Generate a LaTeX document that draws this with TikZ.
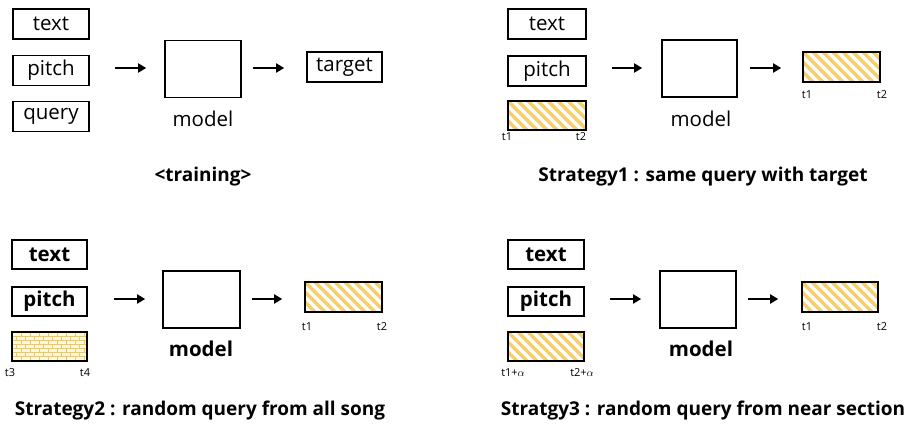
\documentclass[tikz,border=0pt]{standalone}
\usepackage{fontspec}
\setmainfont{Open Sans}
\usetikzlibrary{arrows.meta}
\definecolor{hy}{RGB}{248,206,104}
\definecolor{brk}{RGB}{246,198,80}
\definecolor{brkfill}{RGB}{255,247,222}
\tikzset{
  inbox/.style={draw, line width=1.6pt, minimum width=76pt, minimum height=30pt, inner sep=0pt, font=\fontsize{20.5}{20.5}\selectfont},
  inboxb/.style={inbox, font=\fontsize{20.5}{20.5}\selectfont\bfseries},
  modelbox/.style={draw, line width=1.6pt, minimum width=76pt, minimum height=57pt, inner sep=0pt},
  mlabel/.style={font=\fontsize{20.5}{20.5}\selectfont, inner sep=0pt},
  mlabelb/.style={mlabel, font=\fontsize{20.5}{20.5}\selectfont\bfseries},
  caption/.style={font=\fontsize{19}{19}\selectfont\bfseries, inner sep=0pt},
  tlab/.style={font=\fontsize{11}{11}\selectfont, inner sep=0pt},
  arr/.style={line width=1.8pt, -{Triangle[length=8pt,width=9pt]}},
  hatchbox/.style={draw, line width=1.6pt, inner sep=0pt, minimum width=77pt, minimum height=30pt,
    path picture={\foreach \i in {-6,...,9}{\draw[hy, line width=3.4pt] ([xshift=\i*10pt]path picture bounding box.north west) -- ++(40pt,-40pt);}}},
  brickbox/.style={draw, line width=1.6pt, inner sep=0pt, minimum width=75pt, minimum height=29pt, fill=brkfill,
    path picture={\foreach \r in {0,...,8}{
        \draw[brk, line width=0.9pt] ([yshift=-\r*4pt]path picture bounding box.north west) -- ++(100pt,0pt);
        \pgfmathsetmacro\off{mod(\r,2)*4.5}
        \foreach \k in {0,...,9}{\draw[brk, line width=0.9pt] ([xshift=\off pt+\k*9pt, yshift=-\r*4pt]path picture bounding box.north west) -- ++(0pt,-4pt);}
      }}}
}
\begin{document}
\begin{tikzpicture}[x=1pt,y=-1pt]
\useasboundingbox[fill=white] (0,0) rectangle (912,424);

% ---------- top-left: training ----------
\node[inbox] (tl-text) at (51,24) {text};
\node[inbox] (tl-pitch) at (51,70.5) {pitch};
\node[inbox] (tl-query) at (51,116.5) {query};
\node[modelbox] (tl-model) at (203,69) {};
\node[mlabel] (tl-ml) at (203,119) {model};
\node[inbox, minimum width=75pt] (tl-target) at (344.5,67) {target};
\coordinate (tl-a1) at (115,68);
\draw[arr, shorten >=18pt] (tl-a1) -- (tl-a1 -| tl-model.west);
\draw[arr, shorten <=11pt, shorten >=22pt] (tl-model.east |- tl-a1) -- (tl-a1 -| tl-target.west);
\node[caption] (tl-cap) at (203,177) {<training>};

% ---------- top-right: Strategy1 ----------
\node[inbox, minimum width=78pt] (tr-text) at (547,24) {text};
\node[inbox, minimum width=78pt] (tr-pitch) at (547,71) {pitch};
\node[hatchbox, minimum width=78pt, minimum height=29pt] (tr-query) at (547,115.5) {};
\node[tlab] (tr-q1) at (507,137) {t1};
\node[tlab] (tr-q2) at (581,137) {t2};
\node[modelbox, minimum width=75pt] (tr-model) at (699.5,68.5) {};
\node[mlabel] (tr-ml) at (701,119) {model};
\node[hatchbox] (tr-target) at (841.5,67) {};
\node[tlab] (tr-t1) at (807,95) {t1};
\node[tlab] (tr-t2) at (882,95) {t2};
\coordinate (tr-a1) at (612,68);
\draw[arr, shorten >=19pt] (tr-a1) -- (tr-a1 -| tr-model.west);
\draw[arr, shorten <=12pt, shorten >=21pt] (tr-model.east |- tr-a1) -- (tr-a1 -| tr-target.west);
\node[caption] (tr-cap) at (703,177) {Strategy1 : same query with target};

% ---------- bottom-left: Strategy2 ----------
\node[inboxb, minimum width=75pt, minimum height=29pt] (bl-text) at (49.5,254.5) {text};
\node[inboxb, minimum width=75pt, minimum height=29pt] (bl-pitch) at (49.5,301.5) {pitch};
\node[brickbox] (bl-query) at (49.5,346.5) {};
\node[tlab] (bl-q1) at (10,373) {t3};
\node[tlab] (bl-q2) at (85,373) {t4};
\node[modelbox, minimum width=77pt] (bl-model) at (201.5,299.5) {};
\node[mlabelb] (bl-ml) at (201,349) {model};
\node[hatchbox] (bl-target) at (343.5,297) {};
\node[tlab] (bl-t1) at (307,327) {t1};
\node[tlab] (bl-t2) at (382,327) {t2};
\coordinate (bl-a1) at (114,299);
\draw[arr, shorten >=17pt] (bl-a1) -- (bl-a1 -| bl-model.west);
\draw[arr, shorten <=11pt, shorten >=22pt] (bl-model.east |- bl-a1) -- (bl-a1 -| bl-target.west);
\node[caption] (bl-cap) at (200,411) {Strategy2 : random query from all song};

% ---------- bottom-right: Stratgy3 ----------
\node[inboxb, minimum height=29pt] (br-text) at (546,254.5) {text};
\node[inboxb, minimum height=29pt] (br-pitch) at (546,301.5) {pitch};
\node[hatchbox, minimum width=76pt, minimum height=29pt] (br-query) at (546,346.5) {};
\node[tlab] (br-q1) at (513,373) {t1+$\alpha$};
\node[tlab] (br-q2) at (582,373) {t2+$\alpha$};
\node[modelbox] (br-model) at (698,299.5) {};
\node[mlabelb] (br-ml) at (701,349) {model};
\node[hatchbox, minimum width=76pt] (br-target) at (840,297) {};
\node[tlab] (br-t1) at (807,327) {t1};
\node[tlab] (br-t2) at (882,327) {t2};
\coordinate (br-a1) at (610,299);
\draw[arr, shorten >=18pt] (br-a1) -- (br-a1 -| br-model.west);
\draw[arr, shorten <=11pt, shorten >=23pt] (br-model.east |- br-a1) -- (br-a1 -| br-target.west);
\node[caption] (br-cap) at (703,411) {Stratgy3 : random query from near section};
\end{tikzpicture}
\end{document}
